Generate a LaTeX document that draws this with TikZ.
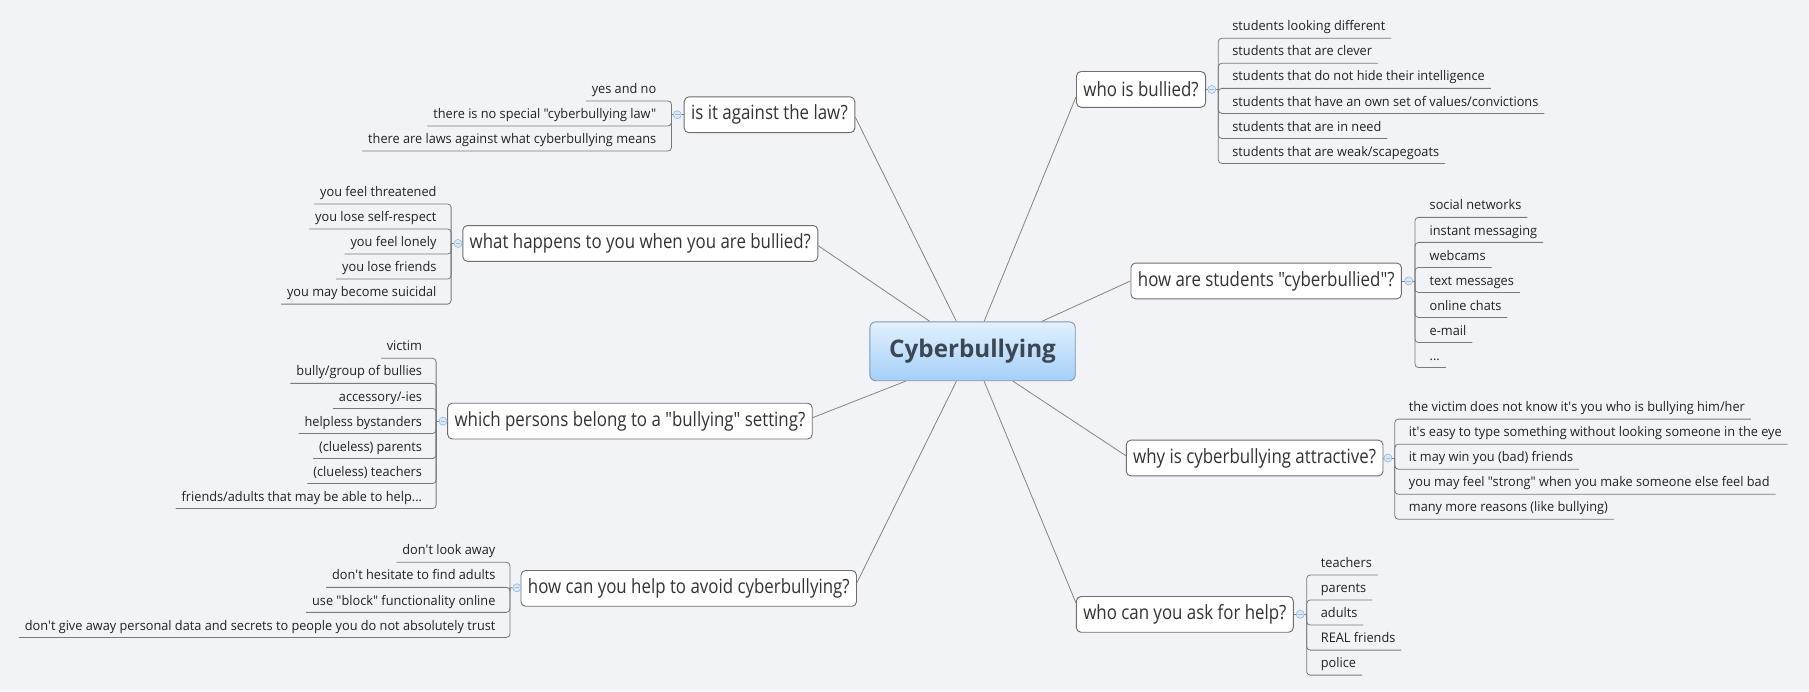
\documentclass[tikz,border=0pt]{standalone}
\usepackage{fontspec}
\newfontfamily\leaffont[FakeStretch=0.96]{Open Sans}
\newfontfamily\subfont[FakeStretch=0.86]{Open Sans}
\newfontfamily\cenfont{Open Sans}
\definecolor{bgc}{HTML}{F2F3F7}
\definecolor{boxc}{HTML}{6E6E6E}
\definecolor{linec}{HTML}{858585}
\definecolor{brkc}{HTML}{7A7A7A}
\definecolor{leaftext}{HTML}{222222}
\definecolor{subtext}{HTML}{333333}
\definecolor{centext}{HTML}{3B4752}
\definecolor{centop}{HTML}{E2F1FE}
\definecolor{cenbot}{HTML}{A3CFF8}
\definecolor{cenborder}{HTML}{7F97AC}
\definecolor{togfill}{HTML}{DCE8F5}
\definecolor{togdraw}{HTML}{9ABDE2}
\tikzset{
  sub/.style={draw=boxc, fill=white, rounded corners=4pt, line width=0.8pt,
    inner xsep=6pt, inner ysep=0pt, minimum height=31pt,
    font=\subfont\fontsize{17}{20}\selectfont, text=subtext},
  central/.style={draw=cenborder, rounded corners=5pt, line width=0.8pt,
    top color=centop, bottom color=cenbot, minimum width=178pt, minimum height=51pt,
    font=\cenfont\bfseries\fontsize{21}{24}\selectfont, text=centext},
  leaf/.style={inner sep=0pt, font=\leaffont\fontsize{11.5}{13}\selectfont, text=leaftext},
  conn/.style={draw=linec, line width=0.7pt},
  brk/.style={draw=brkc, line width=0.7pt, rounded corners=3pt},
  tog/.style={circle, draw=togdraw, fill=togfill, line width=0.6pt, minimum size=7pt, inner sep=0pt},
  togm/.style={draw=togdraw, line width=0.6pt}
}
\newcommand\leafR[5]{%
  \node[leaf, anchor=base west] (#1) at (#4, #3-6.4) {#5};
  \draw[brk] (#2) |- ([shift={(5,6.4)}]#1.base east);
}
\newcommand\leafL[5]{%
  \node[leaf, anchor=base east] (#1) at (#4, #3-6.4) {#5};
  \draw[brk] (#2) |- ([shift={(-5,6.4)}]#1.base west);
}
\newcommand\toggle[3]{%
  \node[tog] (#1) at (#2, #3) {};
  \draw[togm] ([xshift=-2pt]#1.center) -- ([xshift=2pt]#1.center);
}
\newcommand\q{\textquotesingle}
\begin{document}
\begin{tikzpicture}[x=1pt, y=-1pt]
\useasboundingbox (0,0) rectangle (1568,599);
\fill[bgc] (0,0) rectangle (1568,599);

% central
\node[central] (Z) at (843,304.5) {Cyberbullying};

% subtopics
\node[sub] (A) at (989,77.5) {who is bullied?};
\node[sub] (B) at (1097.5,243.5) {how are students "cyberbullied"?};
\node[sub] (C) at (1087.5,397) {why is cyberbullying attractive?};
\node[sub] (D) at (1027,532.5) {who can you ask for help?};
\node[sub] (E) at (667,99.5) {is it against the law?};
\node[sub] (F) at (555,211) {what happens to you when you are bullied?};
\node[sub] (G) at (546,365) {which persons belong to a "bullying" setting?};
\node[sub] (H) at (597,510) {how can you help to avoid cyberbullying?};

% connectors
\draw[conn] ([xshift=10pt]Z.north) -- ([yshift=-6.5pt]A.west);
\draw[conn] ([xshift=60pt]Z.north) -- (B.west);
\draw[conn] ([xshift=35pt]Z.south) -- ([yshift=2pt]C.west);
\draw[conn] ([xshift=10pt]Z.south) -- ([yshift=10pt]D.west);
\draw[conn] ([xshift=-14pt]Z.north) -- ([yshift=-2pt]E.east);
\draw[conn] ([xshift=-37pt]Z.north) -- ([yshift=-2pt]F.east);
\draw[conn] ([xshift=-58pt]Z.south) -- ([yshift=3pt]G.east);
\draw[conn] ([xshift=-14pt]Z.south) -- ([yshift=5pt]H.east);

% bracket points
\coordinate (Ab) at (1056,77.5);
\coordinate (Bb) at (1226.5,243.5);
\coordinate (Cb) at (1209,397);
\coordinate (Db) at (1132.6,532.5);
\coordinate (Eb) at (582,99.5);
\coordinate (Fb) at (391,211);
\coordinate (Gb) at (378,365);
\coordinate (Hb) at (442,509.5);

\draw[brk] (A.east) -- (Ab);
\draw[brk] (B.east) -- (Bb);
\draw[brk] (C.east) -- (Cb);
\draw[brk] (D.east) -- (Db);
\draw[brk] (E.west) -- (Eb);
\draw[brk] (F.west) -- (Fb);
\draw[brk] (G.west) -- (Gb);
\draw[brk] (H.west) -- (Hb);

% A leaves
\leafR{A1}{Ab}{33.2}{1068}{students looking different}
\leafR{A2}{Ab}{54.9}{1068}{students that are clever}
\leafR{A3}{Ab}{76.6}{1068}{students that do not hide their intelligence}
\leafR{A4}{Ab}{98.3}{1068}{students that have an own set of values/convictions}
\leafR{A5}{Ab}{120.0}{1068}{students that are in need}
\leafR{A6}{Ab}{141.7}{1068}{students that are weak/scapegoats}

% B leaves
\leafR{B1}{Bb}{188.4}{1239}{social networks}
\leafR{B2}{Bb}{210.1}{1239}{instant messaging}
\leafR{B3}{Bb}{231.8}{1239}{webcams}
\leafR{B4}{Bb}{253.5}{1239}{text messages}
\leafR{B5}{Bb}{275.2}{1239}{online chats}
\leafR{B6}{Bb}{296.9}{1239}{e-mail}
\leafR{B7}{Bb}{318.6}{1239}{...}

% C leaves
\leafR{C1}{Cb}{363.3}{1221}{the victim does not know it\q s you who is bullying him/her}
\leafR{C2}{Cb}{385.0}{1221}{it\q s easy to type something without looking someone in the eye}
\leafR{C3}{Cb}{406.7}{1221}{it may win you (bad) friends}
\leafR{C4}{Cb}{428.4}{1221}{you may feel "strong" when you make someone else feel bad}
\leafR{C5}{Cb}{450.1}{1221}{many more reasons (like bullying)}

% D leaves
\leafR{D1}{Db}{498.4}{1144.7}{teachers}
\leafR{D2}{Db}{520.1}{1144.7}{parents}
\leafR{D3}{Db}{541.8}{1144.7}{adults}
\leafR{D4}{Db}{563.5}{1144.7}{REAL friends}
\leafR{D5}{Db}{585.2}{1144.7}{police}

% E leaves
\leafL{E1}{Eb}{87.5}{569}{yes and no}
\leafL{E2}{Eb}{109.2}{569}{there is no special "cyberbullying law"}
\leafL{E3}{Eb}{130.9}{569}{there are laws against what cyberbullying means}

% F leaves
\leafL{F1}{Fb}{176.8}{378.5}{you feel threatened}
\leafL{F2}{Fb}{198.5}{378.5}{you lose self-respect}
\leafL{F3}{Fb}{220.2}{378.5}{you feel lonely}
\leafL{F4}{Fb}{241.9}{378.5}{you lose friends}
\leafL{F5}{Fb}{263.6}{378.5}{you may become suicidal}

% G leaves
\leafL{G1}{Gb}{310.6}{366}{victim}
\leafL{G2}{Gb}{332.3}{366}{bully/group of bullies}
\leafL{G3}{Gb}{354.0}{366}{accessory/-ies}
\leafL{G4}{Gb}{375.7}{366}{helpless bystanders}
\leafL{G5}{Gb}{397.4}{366}{(clueless) parents}
\leafL{G6}{Gb}{419.1}{366}{(clueless) teachers}
\leafL{G7}{Gb}{440.8}{366}{friends/adults that may be able to help...}

% H leaves
\leafL{H1}{Hb}{487.4}{429.6}{don\q t look away}
\leafL{H2}{Hb}{509.1}{429.6}{don\q t hesitate to find adults}
\leafL{H3}{Hb}{530.8}{429.6}{use "block" functionality online}
\leafL{H4}{Hb}{552.5}{429.6}{don\q t give away personal data and secrets to people you do not absolutely trust}

% toggles
\toggle{Ac}{1050.3}{77.5}
\toggle{Bc}{1221}{243.5}
\toggle{Cc}{1203}{397}
\toggle{Dc}{1127}{532.5}
\toggle{Ec}{587}{99.5}
\toggle{Fc}{397}{211}
\toggle{Gc}{384}{365}
\toggle{Hc}{448}{509.5}
\end{tikzpicture}
\end{document}
